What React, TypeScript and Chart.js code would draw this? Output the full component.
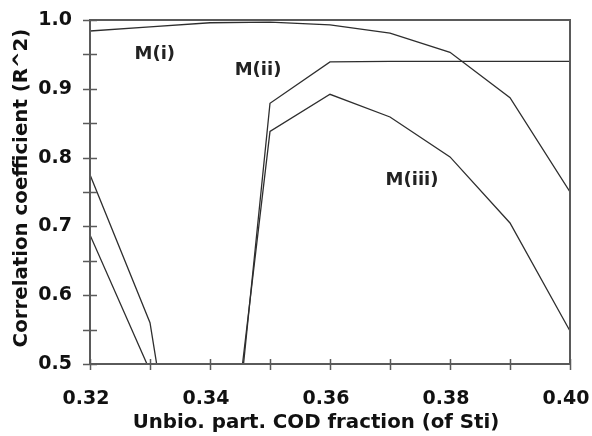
import React, { useEffect, useRef } from "react";
import { Chart, registerables } from "chart.js";

Chart.register(...registerables);

const xValues = [0.32, 0.33, 0.34, 0.35, 0.36, 0.37, 0.38, 0.39, 0.4];
const seriesMi = [0.984, 0.99, 0.996, 0.997, 0.993, 0.981, 0.953, 0.887, 0.75];
const seriesMii = [0.775, 0.56, 0.02, 0.879, 0.939, 0.94, 0.94, 0.94, 0.94];
const seriesMiii = [0.6875, 0.49, 0.1, 0.838, 0.892, 0.859, 0.801, 0.705, 0.548];

const curveLabels = [
  { text: "M(i)", x: 0.3308, y: 0.9506 },
  { text: "M(ii)", x: 0.348, y: 0.9273 },
  { text: "M(iii)", x: 0.37367, y: 0.7674 },
];

const xTitle = "Unbio. part. COD fraction (of Sti)";
const yTitle = "Correlation coefficient (R^2)";

const FONT = '"DejaVu Sans", sans-serif';
const AXIS_COLOR = "#5a5a5a";
const LINE_COLOR = "#2e2e2e";

const framePlugin = {
  id: "frame",
  afterDraw(chart: any) {
    const { ctx, chartArea } = chart;
    const xs = chart.scales.x;
    const ys = chart.scales.y;
    ctx.save();
    ctx.strokeStyle = AXIS_COLOR;
    ctx.lineWidth = 2;
    ctx.strokeRect(chartArea.left, chartArea.top, chartArea.right - chartArea.left, chartArea.bottom - chartArea.top);
    ctx.lineWidth = 1.5;
    ctx.beginPath();
    xs.ticks.forEach((t: any) => {
      const px = Math.round(xs.getPixelForValue(t.value)) + 0.5;
      ctx.moveTo(px, chartArea.bottom - 5);
      ctx.lineTo(px, chartArea.bottom + 6);
    });
    ys.ticks.forEach((t: any) => {
      const py = Math.round(ys.getPixelForValue(t.value)) + 0.5;
      ctx.moveTo(chartArea.left - 7, py);
      ctx.lineTo(chartArea.left + 7, py);
    });
    ctx.stroke();
    ctx.fillStyle = "#222";
    ctx.font = `bold 18px ${FONT}`;
    ctx.textAlign = "center";
    ctx.textBaseline = "middle";
    curveLabels.forEach((l) => {
      ctx.fillText(l.text, xs.getPixelForValue(l.x), ys.getPixelForValue(l.y));
    });
    ctx.fillStyle = "#111";
    ctx.font = `bold 19.8px ${FONT}`;
    ctx.fillText(xTitle, 316, 423);
    ctx.translate(22, 188);
    ctx.rotate(-Math.PI / 2);
    ctx.fillText(yTitle, 0, 0);
    ctx.restore();
  },
};

export default function App() {
  const ref = useRef<HTMLCanvasElement>(null);
  useEffect(() => {
    if (!ref.current) return;
    const mk = (vals: number[]) => vals.map((v, i) => ({ x: xValues[i], y: v }));
    const common = {
      borderColor: LINE_COLOR,
      borderWidth: 1.3,
      pointRadius: 0,
      fill: false,
      tension: 0,
    };
    const chart = new Chart(ref.current, {
      type: "line",
      data: {
        datasets: [
          { label: "M(i)", data: mk(seriesMi), ...common },
          { label: "M(ii)", data: mk(seriesMii), ...common },
          { label: "M(iii)", data: mk(seriesMiii), ...common },
        ],
      },
      options: {
        animation: false,
        responsive: false,
        maintainAspectRatio: false,
        layout: { padding: { top: 20, right: 22, left: 0, bottom: 0 } },
        plugins: { legend: { display: false }, tooltip: { enabled: false } },
        scales: {
          x: {
            type: "linear",
            min: 0.32,
            max: 0.4,
            grid: { display: false, drawTicks: false },
            border: { display: false },
            ticks: {
              stepSize: 0.01,
              autoSkip: false,
              maxRotation: 0,
              padding: 24,
              labelOffset: -4,
              color: "#111",
              font: { family: FONT, size: 19, weight: "bold" },
              callback: (value: any) => {
                const v = Math.round(Number(value) * 100);
                return v % 2 === 0 ? (v / 100).toFixed(2) : "";
              },
            },
            afterFit: (s: any) => {
              s.height = 72;
              s.paddingLeft = 0;
              s.paddingRight = 0;
            },
          },
          y: {
            min: 0.5,
            max: 1.0,
            grid: { display: false, drawTicks: false },
            border: { display: false },
            ticks: {
              stepSize: 0.05,
              autoSkip: false,
              padding: 18,
              color: "#111",
              font: { family: FONT, size: 19, weight: "bold" },
              callback: (value: any) => {
                const v = Math.round(Number(value) * 100);
                return v % 10 === 0 ? (v / 100).toFixed(1) : "";
              },
            },
            afterFit: (s: any) => {
              s.width = 90;
              s.paddingTop = 0;
              s.paddingBottom = 0;
            },
          },
        },
      },
      plugins: [framePlugin],
    });
    return () => chart.destroy();
  }, []);
  return (
    <div style={{ position: "fixed", left: 0, top: 0, width: 592, height: 436, background: "#fff" }}>
      <canvas ref={ref} width={592} height={436} style={{ width: 592, height: 436 }} />
    </div>
  );
}
